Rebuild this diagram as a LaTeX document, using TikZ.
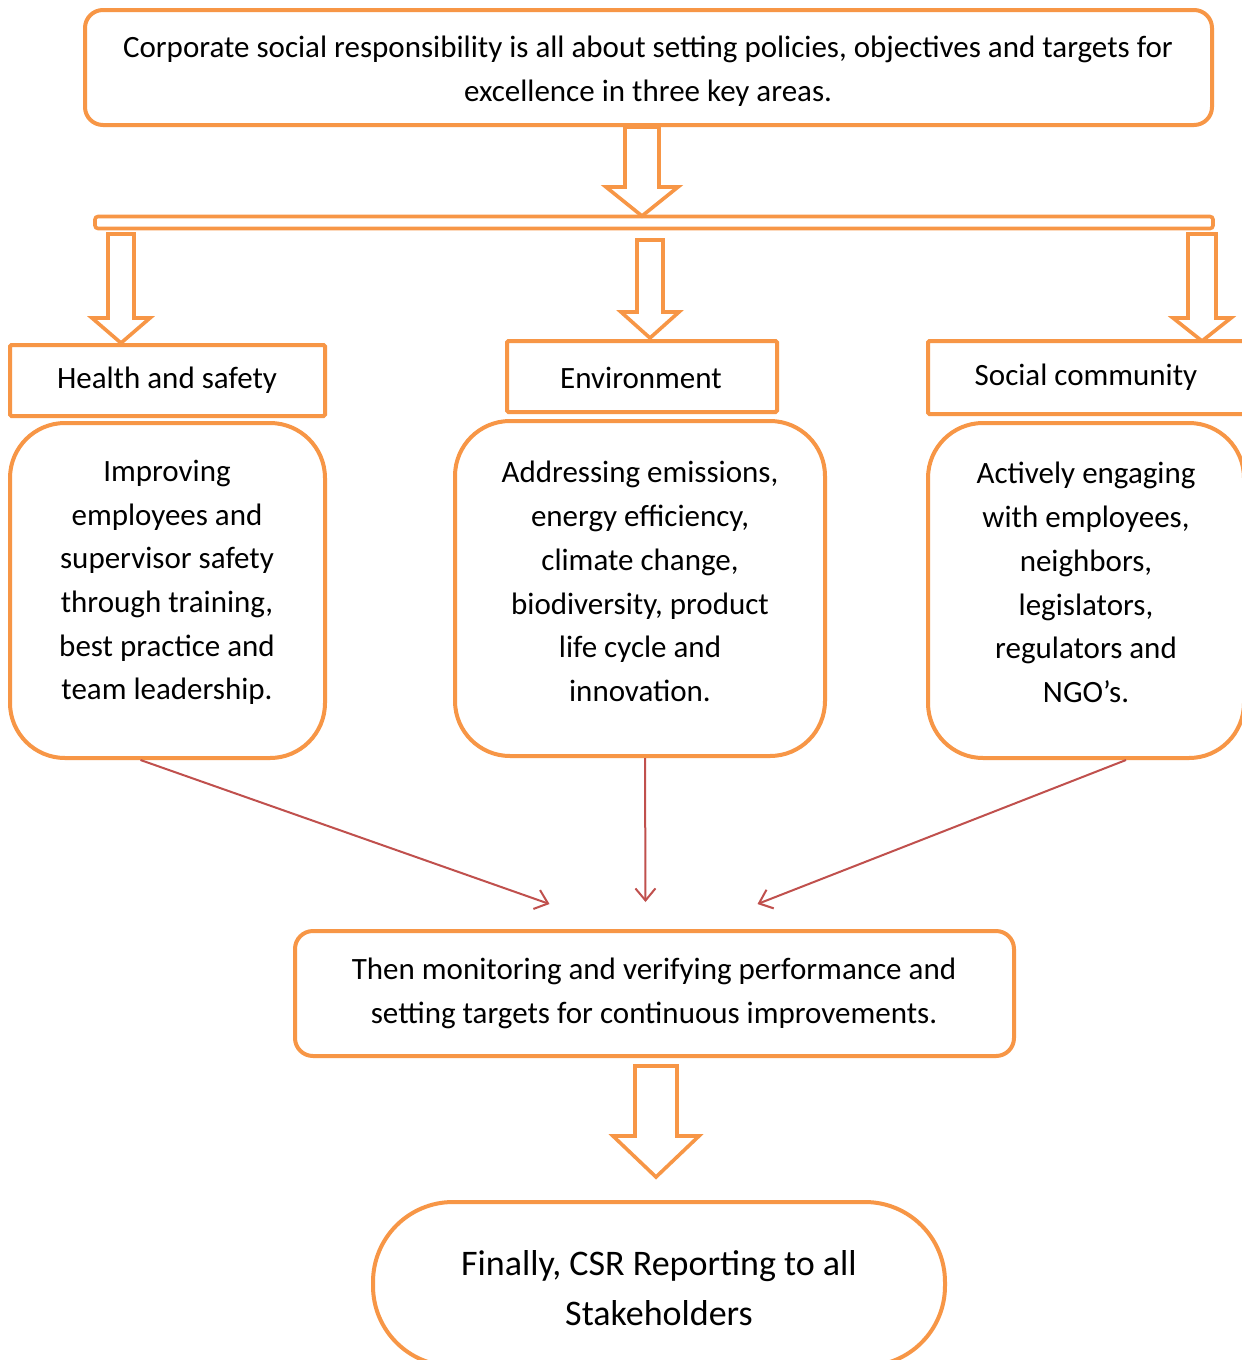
\documentclass[tikz,border=0pt]{standalone}
\usepackage{fontspec}
\setmainfont{Carlito}
\usetikzlibrary{arrows.meta,calc}
\definecolor{csrorange}{HTML}{F79646}
\definecolor{csrred}{HTML}{C0504D}
\newcommand\blockarr[6]{%
  \draw[blockstyle] (#1-#5,#2) -- (#1+#5,#2) -- (#1+#5,#3) -- (#1+#6,#3) -- (#1,#4) -- (#1-#6,#3) -- (#1-#5,#3) -- cycle;}
\begin{document}
\begin{tikzpicture}[x=1pt,y=-1pt,
  box/.style={draw=csrorange, line width=4pt, fill=white, inner sep=0pt, anchor=center},
  txt/.style={font=\fontsize{31}{43.7}\selectfont, align=center, inner sep=0pt, anchor=center, yshift=-2.5pt},
  blockstyle/.style={draw=csrorange, line width=3.6pt, fill=white, line join=miter},
  redarr/.style={draw=csrred, line width=2pt, -{Straight Barb[length=12pt,width=20pt,line width=2pt]}}]
\useasboundingbox (0,0) rectangle (1242,1360);
\clip (0,0) rectangle (1242,1360);
\fill[white] (0,0) rectangle (1242,1360);

% top box
\node[box, rounded corners=18pt, minimum width=1127pt, minimum height=115pt] (top) at (648.5,67.5) {};
\node[txt] (topt) at (648,68.5) {Corporate social responsibility is all about setting policies, objectives and targets for\\excellence in three key areas.};

% bar
\node[box, line width=3.6pt, rounded corners=3pt, minimum width=1118pt, minimum height=12pt] (bar) at (654,222.5) {};

% block arrows
\blockarr{642}{127}{187}{216}{17}{36}
\blockarr{121}{234}{318}{343}{13}{29}
\blockarr{650}{240}{312}{338}{13}{29}
\blockarr{1202}{234}{318}{341}{14}{29}

% header boxes
\node[box, rounded corners=1.5pt, minimum width=315pt, minimum height=71pt] (hs) at (167.5,380.5) {};
\node[txt] (hst) at (167,378) {Health and safety};
\node[box, rounded corners=1.5pt, minimum width=270pt, minimum height=71pt] (en) at (642,376.5) {};
\node[txt] (ent) at (641,375) {Environment};
\node[box, rounded corners=1.5pt, minimum width=318pt, minimum height=73pt] (sc) at (1087,377.5) {};
\node[txt] (sct) at (1086,375) {Social community};

% content boxes
\node[box, rounded corners=55pt, minimum width=315pt, minimum height=335pt] (lb) at (167.5,590.5) {};
\node[txt] (lbt) at (167,580) {Improving\\employees and\\supervisor safety\\through training,\\best practice and\\team leadership.};
\node[box, rounded corners=55pt, minimum width=370pt, minimum height=335pt] (mb) at (640,588.5) {};
\node[txt] (mbt) at (640,579) {Addressing emissions,\\energy efficiency,\\climate change,\\biodiversity, product\\life cycle and\\innovation.};
\node[box, rounded corners=55pt, minimum width=316pt, minimum height=335pt] (rb) at (1086,590.5) {};
\node[txt] (rbt) at (1086,580) {Actively engaging\\with employees,\\neighbors,\\legislators,\\regulators and\\NGO’s.};

% monitoring box
\node[box, rounded corners=18pt, minimum width=719pt, minimum height=125pt] (mon) at (654.5,993.5) {};
\node[txt] (mont) at (654,991) {Then monitoring and verifying performance and\\setting targets for continuous improvements.};

% red arrows
\draw[redarr] ([xshift=-27pt]lb.south) -- ([xshift=-105pt,yshift=25pt]mon.north);
\draw[redarr] ([xshift=5pt]mb.south) -- ([xshift=-9pt,yshift=27pt]mon.north);
\draw[redarr] ([xshift=40pt]rb.south) -- ([xshift=103pt,yshift=25pt]mon.north);

% bottom block arrow
\blockarr{656}{1066}{1136}{1177}{21}{43}

% final box
\node[box, rounded corners=80pt, minimum width=572pt, minimum height=164pt] (fin) at (659,1284) {};
\node[txt, font=\fontsize{36}{50}\selectfont] (fint) at (659,1286) {Finally, CSR Reporting to all\\Stakeholders};
\end{tikzpicture}
\end{document}
